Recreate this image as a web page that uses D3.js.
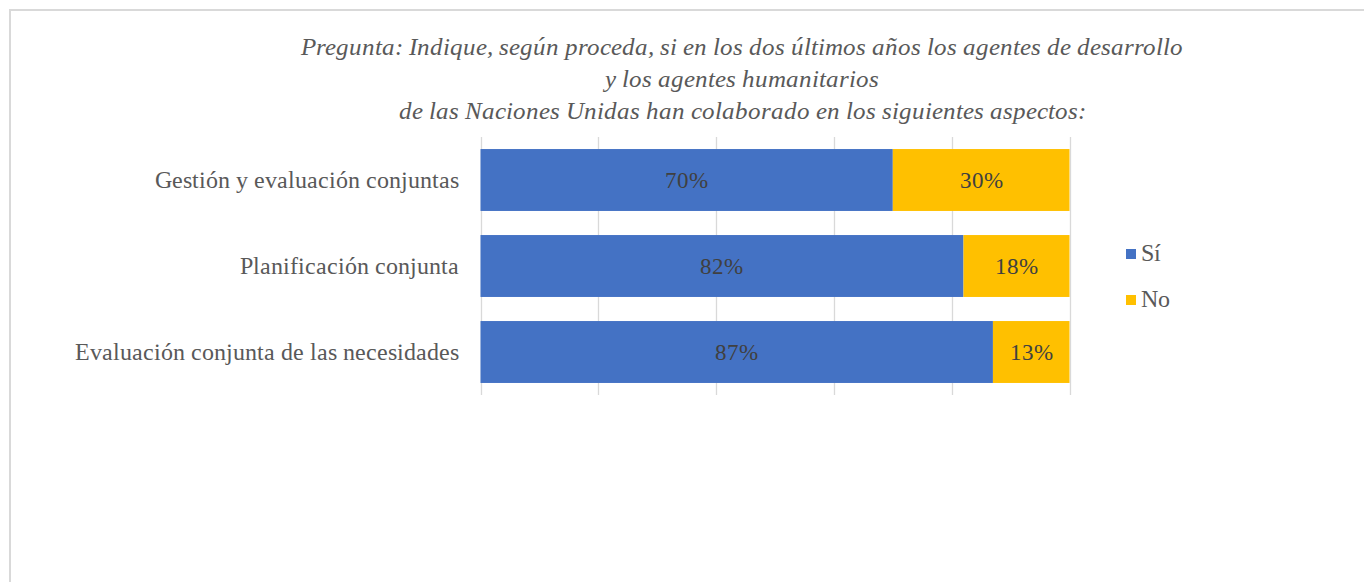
<!DOCTYPE html>
<html>
<head>
<meta charset="utf-8">
<script src="https://cdn.jsdelivr.net/npm/d3@7"></script>
<style>
@font-face { font-family: "ChartSerif"; font-style: normal; src: local("Liberation Serif"), local("LiberationSerif"), local("LiberationSerif-Regular"); }
@font-face { font-family: "ChartSerif"; font-style: italic; src: local("Liberation Serif Italic"), local("LiberationSerif-Italic"); }
html,body{margin:0;padding:0;background:#fff;}
svg{display:block;}
svg text{font-family:"ChartSerif","Liberation Serif";}
</style>
</head>
<body>
<svg id="chart" width="1364" height="582" style="font-family:'Liberation Serif'"></svg>
<script>
const categories = ["Gestión y evaluación conjuntas", "Planificación conjunta", "Evaluación conjunta de las necesidades"];
const seriesNames = ["Sí", "No"];
const siValues = [0.70, 0.82, 0.87];
const noValues = [0.30, 0.18, 0.13];
const xTicks = [0, 0.2, 0.4, 0.6, 0.8, 1.0];
const titleLines = [
  "Pregunta: Indique, según proceda, si en los dos últimos años los agentes de desarrollo",
  "y los agentes humanitarios",
  "de las Naciones Unidas han colaborado en los siguientes aspectos:"
];
const colors = ["#4472C4", "#FFC000"];

const svg = d3.select("#chart");

svg.append("rect").attr("x", 10).attr("y", 10).attr("width", 1400).attr("height", 620)
  .attr("fill", "none").attr("stroke", "#d9d9d9").attr("stroke-width", 2);

svg.append("g").selectAll("text").data(titleLines).join("text")
  .attr("x", 742).attr("y", (d, i) => 55 + i * 32)
  .attr("text-anchor", "middle")
  .style("font-style", "italic").style("font-size", "25.3px")
  .attr("fill", "#595959").text(d => d);

const x = d3.scaleLinear().domain([0, 1]).range([480.5, 1069.5]);
const y = d3.scaleBand().domain(categories).range([137, 395]).paddingInner(0.28).paddingOuter(0.14);

svg.append("g").selectAll("line").data(xTicks).join("line")
  .attr("x1", d => Math.round(x(d)) + 0.5).attr("x2", d => Math.round(x(d)) + 0.5)
  .attr("y1", 137).attr("y2", 395)
  .attr("stroke", "#d9d9d9").attr("stroke-width", 1.3);

const segs = [];
categories.forEach((c, i) => {
  let acc = 0;
  [siValues[i], noValues[i]].forEach((v, j) => { segs.push({cat: c, s: j, x0: acc, x1: acc + v, v}); acc += v; });
});

svg.append("g").selectAll("rect").data(segs).join("rect")
  .attr("x", d => x(d.x0)).attr("width", d => x(d.x1) - x(d.x0))
  .attr("y", d => y(d.cat)).attr("height", y.bandwidth())
  .attr("fill", d => colors[d.s]);

svg.append("g").selectAll("text").data(segs).join("text")
  .attr("x", d => (x(d.x0) + x(d.x1)) / 2)
  .attr("y", d => y(d.cat) + y.bandwidth() / 2 + 8)
  .attr("text-anchor", "middle")
  .style("font-size", "23px").attr("fill", "#404040")
  .text(d => Math.round(d.v * 100) + "%");

const ya = svg.append("g").attr("transform", "translate(480,0)")
  .call(d3.axisLeft(y).tickSize(0).tickPadding(21));
ya.select(".domain").remove();
ya.attr("font-family", null).attr("font-size", null);
ya.selectAll("text").style("font-size", "24px").attr("fill", "#595959");

const lg = svg.append("g").selectAll("g").data(seriesNames).join("g")
  .attr("transform", (d, i) => `translate(1126,${249 + i * 46})`);
lg.append("rect").attr("width", 10).attr("height", 10).attr("fill", (d, i) => colors[i]);
lg.append("text").attr("x", 15).attr("y", 12)
  .style("font-size", "24px").attr("fill", "#595959").text(d => d);
</script>
</body>
</html>
